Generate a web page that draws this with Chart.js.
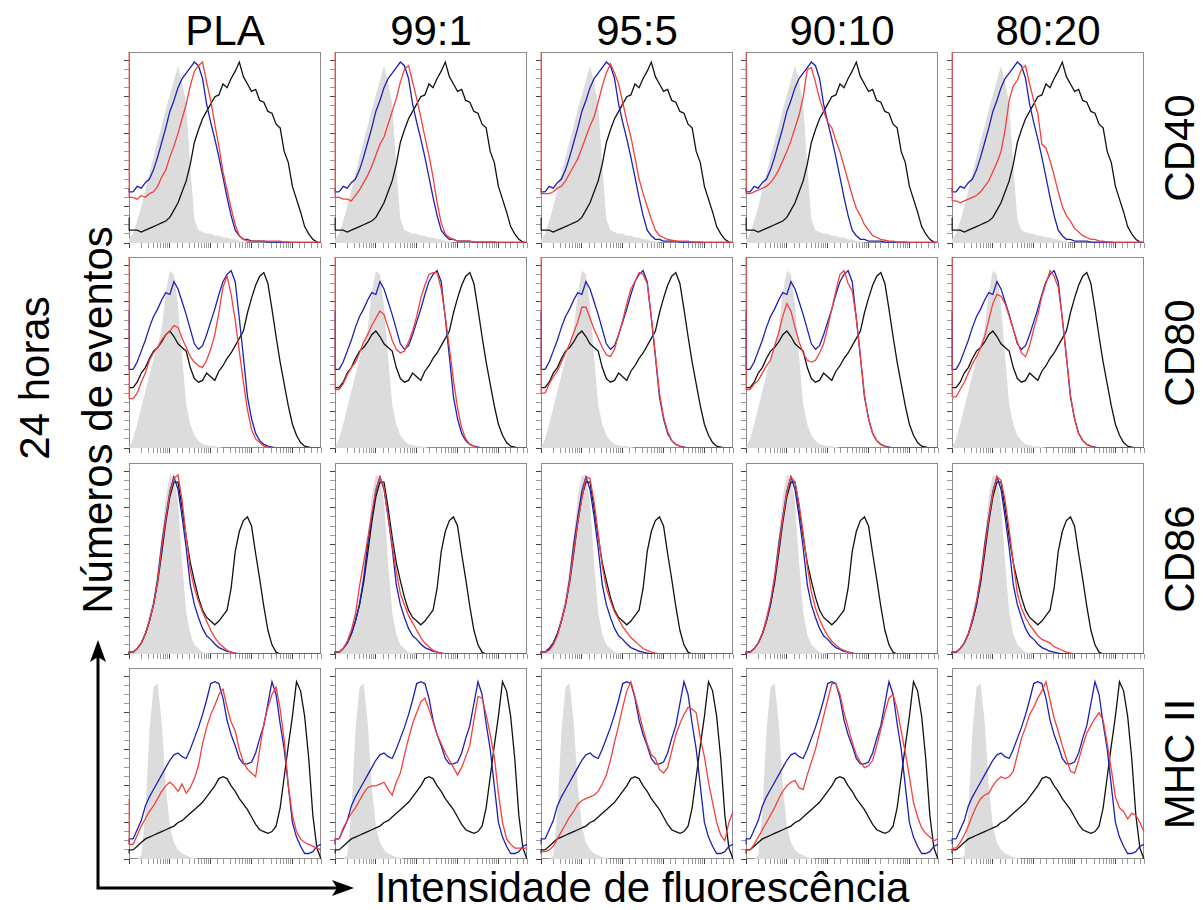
<!DOCTYPE html>
<html lang="pt">
<head>
<meta charset="UTF-8">
<title>Histogramas 24 horas</title>
<script src="https://cdn.jsdelivr.net/npm/chart.js"></script>
<style>
  body { margin: 0; background: #fff; font-family: "Liberation Sans", Arial, sans-serif; }
  #fig { position: relative; width: 1203px; height: 910px; overflow: hidden; }
  .lbl { position: absolute; font-size: 42px; line-height: 42px; white-space: nowrap; color: #000; }
  canvas { position: absolute; }
</style>
</head>
<body>
<div id="fig">
  <svg width="1203" height="910" style="position:absolute;left:0;top:0">
    <path d="M98 654 V888 H340" stroke="#000" stroke-width="3" fill="none"/>
    <path d="M98 640 L106 662 L98 657 L90 662 Z" fill="#000"/>
    <path d="M354 888 L332 880 L337 888 L332 896 Z" fill="#000"/>
  </svg>
</div>

<script>
  // column / row names
  const columns = ['PLA', '99:1', '95:5', '90:10', '80:20'];
  const markers = ['CD40', 'CD80', 'CD86', 'MHC II'];

  // 48 channels along the fluorescence axis
  const bins = Array.from({ length: 48 }, (_, i) => i);

  // ---- CD40 ----
  const grayCD40 = [2,5,12,20,29,38,47,56,64,73, 81,89,97,88,76,42,13,7,6,5, 5,4,4,3,3,2,2,1,1,0, 0,0,0,0,0,0,0,0,0,0, 0,0,0,0,0,0,0,0];
  const blueCD40 = [30,28,31,30,33,35,40,47,55,63, 72,78,85,90,93,96,99,97,90,76, 66,57,47,36,25,15,7,4,2,2, 1,1,1,1,0.5,0.5,0.5,0.5,0.5,0.5, 0,0,0,0,0,0,0,0];
  const blackCD40 = [14,7,7,6,7,8,9,10,11,12, 14,18,22,28,34,43,55,62,68,72, 76,80,81,87,85,90,94,99,91,87, 83,84,78,77,72,71,65,63,50,44, 31,24,17,9,5,2,0.5,0];
  const redCD40_PLA = [110,25,24,26,25,27,28,31,36,40, 47,53,60,68,76,86,94,97,99,88, 78,65,53,39,29,19,10,4,2,1, 1,1,1,1,1,1,1,1,0.5,0.5, 0.5,0.5,0.5,0.5,0.5,0.5,0.5,0.5];
  const redCD40_99 = [110,25,24,24,23,26,29,33,37,42, 48,54,58,65,72,79,88,95,97,88, 79,69,58,48,36,22,11,5,3,2, 1,1,1,1,0.5,0.5,0.5,0.5,0.5,0.5, 0.5,0.5,0.5,0.5,0.5,0.5,0.5,0.5];
  const redCD40_95 = [110,27,27,28,30,31,34,38,42,46, 52,58,64,69,77,86,93,98,93,87, 77,67,58,47,35,27,20,13,7,4, 3,2,1.5,1,1,1,1,0.5,0.5,0.5, 0.5,0.5,0.5,0.5,0.5,0.5,0.5,0.5];
  const redCD40_90 = [110,27,28,29,30,31,33,36,40,45, 50,56,63,70,80,95,96,88,79,72, 66,63,56,50,42,34,26,19,15,10, 7,4,3,2,1.5,1,1,0.5,0.5,0.5, 0.5,0.5,0.5,0.5,0.5,0.5,0.5,0.5];
  const redCD40_80 = [110,23,22,23,24,25,26,28,31,34, 39,44,50,62,78,86,89,95,97,87, 78,71,54,52,45,37,28,20,15,12, 8,6,4,3,2,2,1,1,0.5,0.5, 0.5,0.5,0.5,0.5,0.5,0.5,0.5,0.5];

  // ---- CD80 ----
  const grayCD80 = [0,5,13,22,31,40,49,56,65,85, 97,95,78,50,24,13,7,4,2,1.5, 1,1,0.5,0,0,0,0,0,0,0, 0,0,0,0,0,0,0,0,0,0, 0,0,0,0,0,0,0,0];
  const blueCD80 = [75,43,47,53,59,66,72,76,81,85, 84,91,87,80,73,65,57,54,56,62, 69,76,84,91,95,97,91,71,50,28, 16,8,4,2,1,0.5,0,0,0,0, 0,0,0,0,0,0,0,0];
  const blackCD80 = [33,33,36,41,44,49,53,55,58,62, 64,61,57,55,53,44,38,36,37,41, 39,37,42,45,49,52,56,60,64,74, 82,89,94,96,90,76,61,47,35,23, 13,7,3,1,0.5,0,0,0];
  const redCD80_PLA = [110,27,30,36,41,48,52,55,59,62, 64,67,66,60,55,50,47,45,44,48, 54,62,74,88,94,84,70,53,36,21, 10,5,3,1,0.5,0,0,0,0,0, 0,0,0,0,0,0,0,0];
  const redCD80_99 = [110,32,35,40,44,47,52,58,62,67, 71,75,73,66,59,54,52,53,58,64, 72,82,89,95,96,96,87,72,55,37, 22,11,5,2,1,0,0,0,0,0, 0,0,0,0,0,0,0,0];
  const redCD80_95 = [110,30,35,39,42,47,52,57,63,69, 77,77,71,65,60,55,51,50,54,62, 70,79,87,91,96,95,90,72,51,30, 17,9,4,2,1,0,0,0,0,0, 0,0,0,0,0,0,0,0];
  const redCD80_90 = [110,32,35,37,41,45,48,56,63,72, 79,75,66,58,52,48,47,48,52,57, 66,76,86,95,97,90,86,71,50,29, 16,8,4,2,1,0,0,0,0,0, 0,0,0,0,0,0,0,0];
  const redCD80_80 = [110,28,32,36,41,46,50,55,61,70, 79,84,83,79,72,65,58,52,50,56, 65,73,83,90,97,94,88,71,50,29, 16,8,4,2,1,0,0,0,0,0, 0,0,0,0,0,0,0,0];

  // ---- CD86 ----
  const grayCD86 = [0,1,3,7,13,22,31,47,64,86, 98,97,83,50,23,11,5,3,1,0.5, 0,0,0,0,0,0,0,0,0,0, 0,0,0,0,0,0,0,0,0,0, 0,0,0,0,0,0,0,0];
  const blueCD86 = [0,1,3,6,11,18,27,41,60,75, 89,97,90,75,58,38,27,20,14,10, 8,5.5,3.5,2.5,1.5,1,0.5,0,0,0, 0,0,0,0,0,0,0,0,0,0, 0,0,0,0,0,0,0,0];
  const blackCD86 = [0,1,3,6,11,18,27,39,55,72, 86,94,94,80,64,50,40,31,24,20, 18,16,18,21,24,36,56,67,73,75, 70,55,41,26,13,5,1,0,0,0, 0,0,0,0,0,0,0,0];
  const redCD86_PLA = [0,1,3,6,11,18,27,40,58,74, 88,96,98,84,64,46,36,29,23,18, 13,9,6,4,2,1,0.5,0,0,0, 0,0,0,0,0,0,0,0,0,0, 0,0,0,0,0,0,0,0];
  const redCD86_99 = [0,1,3,7,13,22,37,50,63,77, 90,97,91,75,60,45,33,27,21,17, 13,9,6,4,2,1,0.5,0,0,0, 0,0,0,0,0,0,0,0,0,0, 0,0,0,0,0,0,0,0];
  const redCD86_95 = [0,1,2,5,10,18,27,40,56,72, 85,97,96,83,66,48,36,29,23,19, 15,12,9,7,5,3,2,1,0.5,0, 0,0,0,0,0,0,0,0,0,0, 0,0,0,0,0,0,0,0];
  const redCD86_90 = [0,1,3,6,11,19,29,42,58,74, 88,97,94,82,66,48,34,25,19,14, 10,7,5,3,2,1,0.5,0,0,0, 0,0,0,0,0,0,0,0,0,0, 0,0,0,0,0,0,0,0];
  const redCD86_80 = [0,1,3,6,11,19,29,42,58,74, 88,97,95,84,68,50,33,25,20,16, 13,10,8,7,6,4,3,2,1,0.5, 0,0,0,0,0,0,0,0,0,0, 0,0,0,0,0,0,0,0];

  // ---- MHC II ----
  const grayMHC = [0,0,0,2,25,70,94,96,75,40, 18,9,5,3,2,1,0.5,0,0,0, 0,0,0,0,0,0,0,0,0,0, 0,0,0,0,0,0,0,0,0,0, 0,0,0,0,0,0,0,0];
  const blueMHC = [8,11,16,21,29,34,38,42,46,50, 54,57,58,56,55,60,66,72,79,87, 96,97,96,88,76,68,62,55,52,52, 53,58,66,73,85,97,90,74,60,40, 20,12,7,3,3,4,7,8];
  const blackMHC = [3,5,7,9,11,12,13,14,15,16, 17,18,20,21,23,25,27,29,31,34, 37,40,44,45,44,40,37,33,30,27, 23,19,16,15,14,15,18,28,45,62, 78,97,92,78,55,24,6,0];
  const redMHC_PLA = [33,8,13,18,22,26,29,33,37,40, 42,40,37,41,36,39,44,51,63,72, 79,84,90,93,83,75,70,60,53,49, 47,45,60,74,83,90,94,82,65,40, 24,15,11,9,8,7,6,5];
  const redMHC_99 = [8,11,17,21,25,28,32,36,39,40, 40,41,42,38,35,42,47,57,66,74, 80,86,88,82,75,68,63,58,54,50, 46,50,56,62,76,89,88,79,68,56, 36,20,11,8,6,6,6,6];
  const redMHC_95 = [3,4,5,7,11,15,19,23,26,30, 32,33,34,35,37,41,46,54,64,73, 83,92,97,89,80,71,63,57,55,49, 47,50,59,68,74,79,83,82,80,66, 56,42,31,20,13,10,20,26];
  const redMHC_90 = [3,5,8,12,16,20,24,28,33,37, 40,42,43,39,38,46,53,60,69,78, 87,96,96,90,80,72,64,57,53,50, 51,54,62,71,80,88,90,82,70,58, 45,31,23,17,14,12,10,11];
  const redMHC_80 = [4,6,9,13,18,24,29,33,35,36, 40,43,45,44,45,48,57,66,72,79, 83,88,92,97,87,77,70,62,55,48, 47,54,62,69,73,77,80,76,63,49, 34,28,26,22,25,24,20,15];

  const rows = [
    { gray: grayCD40, blue: blueCD40, black: blackCD40, red: [redCD40_PLA, redCD40_99, redCD40_95, redCD40_90, redCD40_80] },
    { gray: grayCD80, blue: blueCD80, black: blackCD80, red: [redCD80_PLA, redCD80_99, redCD80_95, redCD80_90, redCD80_80] },
    { gray: grayCD86, blue: blueCD86, black: blackCD86, red: [redCD86_PLA, redCD86_99, redCD86_95, redCD86_90, redCD86_80] },
    { gray: grayMHC, blue: blueMHC, black: blackMHC, red: [redMHC_PLA, redMHC_99, redMHC_95, redMHC_90, redMHC_80] }
  ];

  // layout of the grid (page pixels)
  const colLeft = [129, 335, 541, 746, 952];
  const rowTop = [52, 257, 463, 668];
  const PW = 192, PH = 191;

  const fig = document.getElementById('fig');

  function addLabel(text, cx, cy, rotate) {
    const d = document.createElement('div');
    d.className = 'lbl';
    d.textContent = text;
    d.style.left = cx + 'px';
    d.style.top = cy + 'px';
    d.style.transform = 'translate(-50%,-50%)' + (rotate ? ' rotate(-90deg)' : '');
    fig.appendChild(d);
  }

  columns.forEach((c, i) => addLabel(c, colLeft[i] + PW / 2, 31, false));
  markers.forEach((m, i) => addLabel(m, 1180, rowTop[i] + PH / 2, true));
  addLabel('Números de eventos', 98, 420, true);
  addLabel('24 horas', 35, 378, true);
  addLabel('Intensidade de fluorescência', 642, 888, false);

  // gray frame round each plot area
  const boxPlugin = {
    id: 'box',
    beforeDatasetsDraw(chart) {
      const { ctx, chartArea: a } = chart;
      ctx.save();
      ctx.strokeStyle = '#8c8c8c';
      ctx.lineWidth = 1;
      ctx.strokeRect(a.left + 0.5, a.top + 0.5, a.right - a.left - 1, a.bottom - a.top - 1);
      ctx.restore();
    }
  };

  // a histogram line: the first channel (the axis edge) is drawn as a
  // vertical step on the left border, the rest as a plain line
  function histLines(values, color) {
    const common = { xAxisID: 'x', borderColor: color, borderWidth: 1.3, pointRadius: 0, tension: 0, fill: false };
    return [
      Object.assign({ data: bins.map(i => (i < 2 ? values[i] : null)), stepped: 'after' }, common),
      Object.assign({ data: bins.map(i => (i === 0 ? null : values[i])) }, common)
    ];
  }

  function makePanel(r, c) {
    const row = rows[r];
    const cv = document.createElement('canvas');
    cv.width = PW + 7;
    cv.height = PH + 7;
    cv.style.left = (colLeft[c] - 6) + 'px';
    cv.style.top = (rowTop[r] - 1) + 'px';
    fig.appendChild(cv);

    new Chart(cv, {
      type: 'line',
      data: {
        labels: bins,
        datasets: [
          ...histLines(row.red[c], '#f2403e'),
          ...histLines(row.blue, '#1d20b4'),
          ...histLines(row.black, '#111111'),
          { data: row.gray, xAxisID: 'x', borderWidth: 0, pointRadius: 0, backgroundColor: '#dcdcdc', fill: 'origin' }
        ]
      },
      options: {
        responsive: false,
        animation: false,
        events: [],
        layout: { padding: { left: 1, top: 1, right: 1, bottom: 1 } },
        plugins: { legend: { display: false }, tooltip: { enabled: false } },
        scales: {
          x: { type: 'category', display: false, offset: false },
          xl: {
            type: 'logarithmic', axis: 'x', position: 'bottom', min: 1, max: 50000,
            ticks: { display: false },
            border: { display: false },
            grid: {
              drawOnChartArea: false, tickLength: 5,
              tickColor: ctx => (ctx.tick && ctx.tick.major) ? '#444' : '#9a9a9a'
            }
          },
          y: {
            min: 0, max: 104.5,
            ticks: { display: false, stepSize: 5, includeBounds: false },
            border: { display: false },
            grid: {
              drawOnChartArea: false, tickLength: 5,
              tickColor: ctx => (ctx.tick && ctx.tick.value % 20 === 0) ? '#444' : '#9a9a9a'
            }
          }
        }
      },
      plugins: [boxPlugin]
    });
  }

  for (let r = 0; r < rows.length; r++) {
    for (let c = 0; c < columns.length; c++) makePanel(r, c);
  }
</script>
</body>
</html>
